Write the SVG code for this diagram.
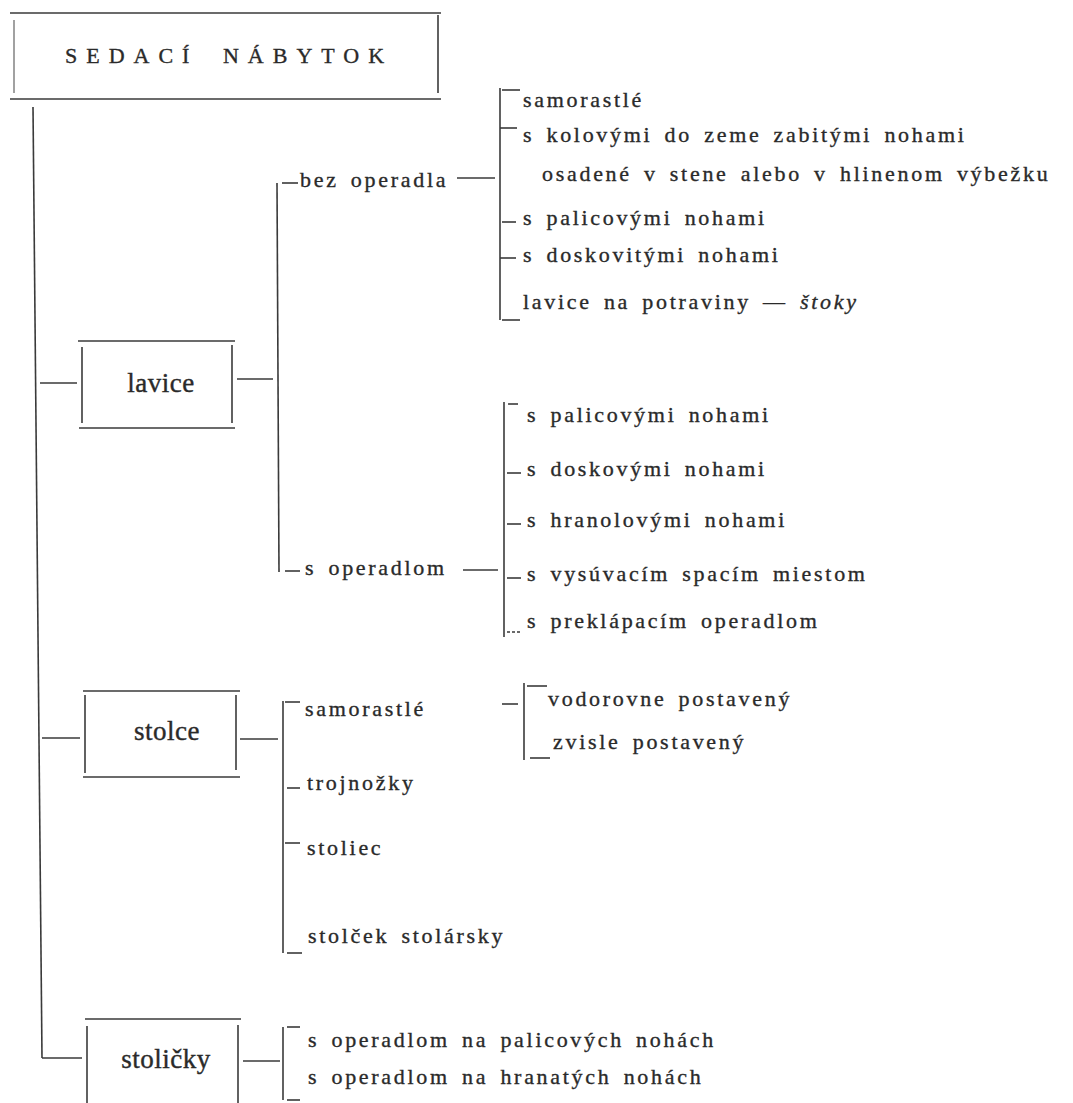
<svg xmlns="http://www.w3.org/2000/svg" width="1073" height="1103" viewBox="0 0 1073 1103">
<style>
.ln{stroke:#3a3a3a;stroke-width:1.6;fill:none}
.t{font-family:"Liberation Serif","Times New Roman",serif;font-size:22px;fill:#2a2a2a;stroke:#2a2a2a;stroke-width:0.35;letter-spacing:2.7px;word-spacing:4px}
.bx{font-family:"Liberation Serif","Times New Roman",serif;font-size:27px;fill:#2a2a2a;stroke:#2a2a2a;stroke-width:0.4;letter-spacing:0.5px;text-anchor:middle}
.ttl{font-family:"Liberation Serif","Times New Roman",serif;font-size:22px;fill:#2a2a2a;stroke:#2a2a2a;stroke-width:0.35;letter-spacing:9px;word-spacing:10px}
</style>
<rect width="1073" height="1103" fill="#ffffff"/>

<g id="sedaci-nabytok">
<line class="ln" x1="10" y1="13" x2="441" y2="13"/>
<line class="ln" x1="10" y1="99" x2="441" y2="99"/>
<line class="ln" x1="14" y1="20" x2="14" y2="93" stroke-opacity="0.6"/>
<line class="ln" x1="438" y1="15" x2="438" y2="93"/>
<text class="ttl" x="65" y="63">SEDACÍ NÁBYTOK</text>
</g>

<g id="lavice">
<line class="ln" x1="78" y1="341" x2="235" y2="341"/>
<line class="ln" x1="79" y1="428" x2="235" y2="428"/>
<line class="ln" x1="82" y1="347" x2="82" y2="423"/>
<line class="ln" x1="232" y1="345" x2="232" y2="423"/>
<text class="bx" x="161" y="392">lavice</text>
</g>

<g id="stolce">
<line class="ln" x1="83" y1="691" x2="240" y2="691"/>
<line class="ln" x1="83" y1="777" x2="240" y2="777"/>
<line class="ln" x1="85" y1="695" x2="85" y2="773"/>
<line class="ln" x1="236" y1="695" x2="236" y2="770"/>
<text class="bx" x="167" y="740">stolce</text>
</g>

<g id="stolicky">
<line class="ln" x1="85" y1="1019" x2="241" y2="1019"/>
<line class="ln" x1="87" y1="1026" x2="87" y2="1103"/>
<line class="ln" x1="238" y1="1025" x2="238" y2="1103"/>
<text class="bx" x="166" y="1068">stoličky</text>
</g>

<g id="bez-operadla"><text class="t" x="300" y="187">bez operadla</text></g>
<g id="s-operadlom"><text class="t" x="305" y="575">s operadlom</text></g>

<g id="bez-operadla-items">
<text class="t" x="523" y="107">samorastlé</text>
<text class="t" x="523" y="142">s kolovými do zeme zabitými nohami</text>
<text class="t" x="542" y="181">osadené v stene alebo v hlinenom výbežku</text>
<text class="t" x="523" y="225">s palicovými nohami</text>
<text class="t" x="523" y="262">s doskovitými nohami</text>
<text class="t" x="523" y="309">lavice na potraviny — <tspan font-style="italic">štoky</tspan></text>
</g>

<g id="s-operadlom-items">
<text class="t" x="527" y="422">s palicovými nohami</text>
<text class="t" x="527" y="476">s doskovými nohami</text>
<text class="t" x="527" y="527">s hranolovými nohami</text>
<text class="t" x="527" y="581">s vysúvacím spacím miestom</text>
<text class="t" x="527" y="628">s preklápacím operadlom</text>
</g>

<g id="stolce-items">
<text class="t" x="305" y="716">samorastlé</text>
<text class="t" x="307" y="790">trojnožky</text>
<text class="t" x="307" y="855">stoliec</text>
<text class="t" x="308" y="943">stolček stolársky</text>
</g>

<g id="samorastle-items">
<text class="t" x="548" y="706">vodorovne postavený</text>
<text class="t" x="553" y="749">zvisle postavený</text>
</g>

<g id="stolicky-items">
<text class="t" x="308" y="1047">s operadlom na palicových nohách</text>
<text class="t" x="308" y="1084">s operadlom na hranatých nohách</text>
</g>

<g id="connectors">
<line class="ln" x1="33" y1="107" x2="42" y2="1058"/>
<line class="ln" x1="40" y1="383" x2="77" y2="383"/>
<line class="ln" x1="42" y1="738" x2="80" y2="738"/>
<line class="ln" x1="42" y1="1058" x2="82" y2="1058"/>
<line class="ln" x1="237" y1="379" x2="273" y2="379"/>
<line class="ln" x1="277" y1="183" x2="279" y2="572"/>
<line class="ln" x1="282" y1="183" x2="298" y2="183"/>
<line class="ln" x1="285" y1="571" x2="300" y2="571"/>
<line class="ln" x1="457" y1="178" x2="495" y2="178"/>
<line class="ln" x1="463" y1="570" x2="498" y2="570"/>
<line class="ln" x1="500" y1="88" x2="500" y2="320"/>
<line class="ln" x1="502" y1="90" x2="520" y2="90"/>
<line class="ln" x1="500" y1="128" x2="517" y2="128"/>
<line class="ln" x1="502" y1="222" x2="516" y2="222"/>
<line class="ln" x1="500" y1="258" x2="516" y2="258"/>
<line class="ln" x1="502" y1="320" x2="520" y2="320"/>
<line class="ln" x1="504" y1="402" x2="504" y2="637"/>
<line class="ln" x1="508" y1="404" x2="518" y2="404"/>
<line class="ln" x1="507" y1="473" x2="521" y2="473"/>
<line class="ln" x1="507" y1="524" x2="521" y2="524"/>
<line class="ln" x1="507" y1="578" x2="521" y2="578"/>
<line class="ln" x1="507" y1="632" x2="520" y2="632" stroke-dasharray="3 2"/>
<line class="ln" x1="240" y1="739" x2="278" y2="739"/>
<line class="ln" x1="283" y1="701" x2="283" y2="953"/>
<line class="ln" x1="285" y1="702" x2="300" y2="702"/>
<line class="ln" x1="287" y1="788" x2="300" y2="788"/>
<line class="ln" x1="285" y1="843" x2="300" y2="843"/>
<line class="ln" x1="287" y1="953" x2="302" y2="953"/>
<line class="ln" x1="502" y1="704" x2="518" y2="704"/>
<line class="ln" x1="524" y1="683" x2="524" y2="760"/>
<line class="ln" x1="527" y1="686" x2="547" y2="686"/>
<line class="ln" x1="530" y1="758" x2="550" y2="758"/>
<line class="ln" x1="243" y1="1061" x2="280" y2="1061"/>
<line class="ln" x1="283" y1="1027" x2="283" y2="1100"/>
<line class="ln" x1="287" y1="1027" x2="300" y2="1027"/>
<line class="ln" x1="287" y1="1100" x2="300" y2="1100"/>
</g>
</svg>
